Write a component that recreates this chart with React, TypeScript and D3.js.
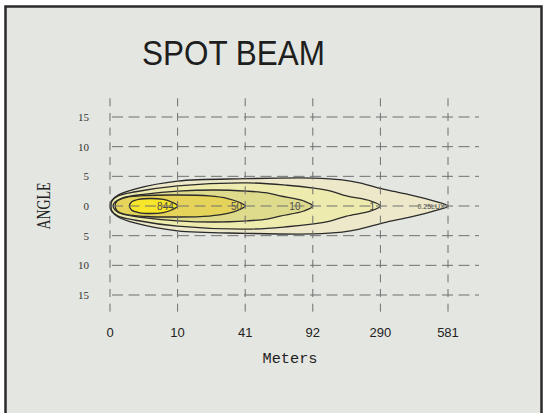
import * as d3 from "d3";

// distance categories (m) and angle ticks (deg)
const meters = [0, 10, 41, 92, 290, 581];
const angleTicks = [15, 10, 5, 0, -5, -10, -15];

// isolux contours: [distance m, half angle deg], upper half, mirrored below
const lux025 = [[0, 0], [0.08, 0.5], [0.3, 1.0], [1.2, 1.85], [3.8, 2.9], [10, 4.2], [41, 4.6], [92, 4.7], [178, 4.4], [229, 3.9], [317, 2.7], [422, 1.85], [522, 0.84], [581, 0]];
const lux1 = [[0.15, 0], [0.3, 0.84], [1.2, 1.7], [3.8, 2.4], [10, 3.4], [42.5, 3.9], [72.5, 3.5], [94.5, 3.0], [145, 2.5], [191, 1.7], [262, 0.84], [290, 0]];
const lux10 = [[0.45, 0], [0.76, 0.67], [1.8, 1.35], [5.3, 2.0], [10, 2.5], [27, 2.7], [42.5, 2.5], [57.5, 2.2], [67.3, 1.7], [85.3, 0.84], [92, 0]];
const lux50 = [[0.76, 0], [1.06, 0.84], [2.3, 1.43], [5.3, 1.77], [10, 1.85], [24.5, 1.69], [33, 1.26], [38, 0.67], [41, 0]];
const lux844 = [[2.88, 0], [3.18, 0.67], [4.24, 1.1], [6.06, 1.26], [7.88, 1.1], [9.09, 0.67], [10, 0]];

const contours = [
  { pts: lux025, fill: "#ECE8C9" },
  { pts: lux1, fill: "#EEEBAE" },
  { pts: lux10, fill: "#DEDC8C" },
  { pts: lux50, fill: "#E6D35A" },
  { pts: lux844, fill: "#F8E62A" },
];

// contour labels: [text, distance m]
const luxLabels: [string, number][] = [["844", 8.2], ["50", 37], ["10", 78.5], ["1", 266], ["0.25LUX", 508]];

export default function App() {
  const W = 544, H = 413;
  const left = 110, right = 448;
  const step = (right - left) / (meters.length - 1);
  const x = d3.scaleLinear().domain(meters).range(meters.map((_, i) => left + i * step));
  const y = d3.scaleLinear().domain([-15, 15]).range([295, 117]);

  const line = d3.line<number[]>()
    .x((d) => x(d[0]))
    .y((d) => y(d[1]))
    .curve(d3.curveCatmullRomClosed.alpha(0.5));

  const shape = (pts: number[][]) => {
    const top = pts;
    const bottom = pts.slice(1, -1).reverse().map((d) => [d[0], -d[1]]);
    return line([...top, ...bottom]) as string;
  };

  const gridColor = "#707070";
  const vTop = y(15) - 18.7;
  const vBot = y(-15) + 18.7;

  return (
    <svg width={W} height={H} style={{ position: "absolute", left: 0, top: 0 }}>
      <rect x={0} y={0} width={W} height={H} fill="#ffffff" />
      <rect x={5.5} y={6.5} width={536} height={500} fill="#E4E6E1" stroke="#2a2a2a" strokeWidth={2.5} />
      <text x={142} y={65} fontFamily="Liberation Sans, Arial, sans-serif" fontSize={35} fill="#1e1e1e" textLength={183} lengthAdjust="spacingAndGlyphs">SPOT  BEAM</text>

      {contours.map((c, i) => (
        <path key={i} d={shape(c.pts)} fill={c.fill} stroke="#2b2b2b" strokeWidth={1.3} />
      ))}

      {luxLabels.map(([t, m], i) => (
        <text key={i} x={x(m)} y={y(0) + (t.length > 3 ? 2.5 : 3.5)} textAnchor="middle"
          fontFamily="Liberation Sans, Arial, sans-serif" fontSize={t.length > 3 ? 7 : 10} fill="#4a4a4a">{t}</text>
      ))}

      {angleTicks.map((a) => (
        <line key={"h" + a} x1={left} x2={479} y1={y(a)} y2={y(a)} stroke={gridColor} strokeWidth={1}
          strokeDasharray="11 5.5" strokeDashoffset={-2} />
      ))}
      {meters.map((m) => (
        <line key={"v" + m} x1={x(m)} x2={x(m)} y1={vTop} y2={vBot} stroke={gridColor} strokeWidth={1}
          strokeDasharray="8 6.67" />
      ))}

      {angleTicks.map((a) => (
        <text key={"yl" + a} x={89} y={y(a) + 4} textAnchor="end" fontFamily="Liberation Serif, serif" fontSize={11} fill="#333">{Math.abs(a)}</text>
      ))}
      {meters.map((m) => (
        <text key={"xl" + m} x={x(m)} y={337} textAnchor="middle" fontFamily="Liberation Sans, Arial, sans-serif" fontSize={13} fill="#222">{m}</text>
      ))}

      <text transform={`translate(50,${y(0)}) rotate(-90)`} textAnchor="middle" fontFamily="Liberation Serif, serif" fontSize={18} fill="#222" textLength={47} lengthAdjust="spacingAndGlyphs">ANGLE</text>
      <text x={290} y={363} textAnchor="middle" fontFamily="Liberation Mono, monospace" fontSize={15} fill="#222" textLength={55} lengthAdjust="spacingAndGlyphs">Meters</text>
    </svg>
  );
}
